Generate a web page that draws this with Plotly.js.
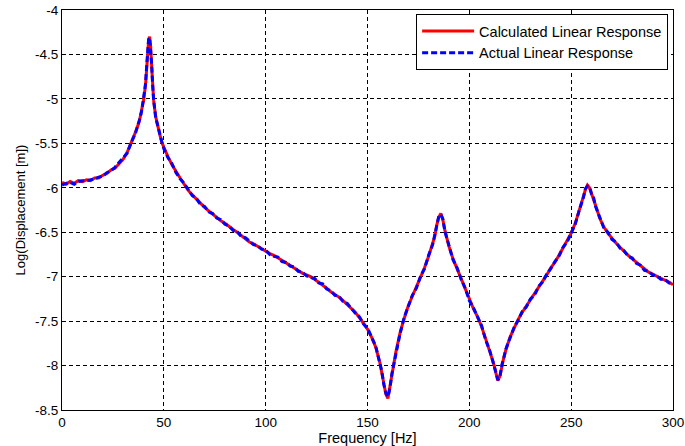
<!DOCTYPE html>
<html>
<head>
<meta charset="utf-8">
<script src="https://cdn.plot.ly/plotly-3.0.1.min.js"></script>
<style>html,body{margin:0;padding:0;background:#fff;}#chart{width:685px;height:446px;}</style>
</head>
<body>
<div id="chart"></div>
<script>
const freq = [
  0,2,4,6,8,10,12,14,16,18,20,22,24,26,28,30,32,34,36,38,
  39,40,41,41.5,42,42.5,43,43.5,44,44.5,45,46,47,48,49,
  50,52,54,56,58,60,62,64,66,68,70,72,74,76,78,80,82,84,86,88,90,92,94,96,98,
  100,102,104,106,108,110,112,114,116,118,120,122,124,126,128,130,132,134,136,138,
  140,142,144,146,148,150,152,154,156,
  157,158,159,160,161,162,163,
  164,166,168,170,172,174,176,178,180,182,
  183,184,185,186,187,188,
  190,192,194,196,198,200,202,204,206,208,210,212,
  213,214,215,216,217,218,
  220,222,224,226,228,230,232,234,236,238,240,242,244,246,248,250,252,254,256,
  257,258,259,260,261,262,
  264,266,268,270,272,274,276,278,280,282,284,286,288,290,292,294,296,298,300
];
const calculated = [
  -5.94,-5.96,-5.93,-5.95,-5.92,-5.93,-5.91,-5.92,-5.89,-5.89,-5.86,-5.84,-5.80,-5.78,-5.73,-5.68,-5.60,-5.50,-5.38,-5.25,
  -5.14,-5.02,-4.85,-4.65,-4.48,-4.35,-4.30,-4.40,-4.62,-4.85,-5.02,-5.20,-5.32,-5.40,-5.49,
  -5.55,-5.65,-5.74,-5.82,-5.89,-5.96,-6.03,-6.08,-6.13,-6.18,-6.22,-6.26,-6.30,-6.33,-6.37,-6.40,-6.44,-6.47,-6.50,-6.54,-6.57,-6.61,-6.63,-6.66,-6.68,
  -6.71,-6.74,-6.76,-6.79,-6.82,-6.85,-6.87,-6.90,-6.93,-6.96,-6.98,-7.00,-7.03,-7.06,-7.09,-7.13,-7.17,-7.20,-7.23,-7.27,
  -7.31,-7.35,-7.40,-7.46,-7.52,-7.59,-7.68,-7.79,-7.96,
  -8.07,-8.20,-8.32,-8.37,-8.25,-8.10,-7.97,
  -7.84,-7.63,-7.47,-7.33,-7.22,-7.12,-7.01,-6.90,-6.77,-6.63,
  -6.55,-6.42,-6.33,-6.29,-6.36,-6.48,
  -6.66,-6.80,-6.91,-7.02,-7.14,-7.26,-7.36,-7.45,-7.56,-7.70,-7.84,-7.98,
  -8.08,-8.17,-8.12,-8.00,-7.90,-7.82,
  -7.68,-7.58,-7.48,-7.40,-7.33,-7.26,-7.20,-7.12,-7.05,-6.98,-6.90,-6.84,-6.76,-6.68,-6.60,-6.51,-6.40,-6.26,-6.10,
  -6.02,-5.97,-6.00,-6.06,-6.12,-6.20,
  -6.34,-6.44,-6.51,-6.57,-6.62,-6.67,-6.72,-6.76,-6.80,-6.84,-6.88,-6.92,-6.95,-6.97,-7.00,-7.02,-7.04,-7.06,-7.09
];
const actual = [
  -5.97,-5.95,-5.94,-5.96,-5.93,-5.92,-5.92,-5.91,-5.90,-5.88,-5.87,-5.83,-5.81,-5.77,-5.72,-5.67,-5.61,-5.49,-5.39,-5.24,
  -5.15,-5.00,-4.83,-4.66,-4.47,-4.33,-4.31,-4.42,-4.60,-4.84,-5.01,-5.21,-5.31,-5.41,-5.48,
  -5.56,-5.66,-5.73,-5.83,-5.90,-5.95,-6.02,-6.09,-6.12,-6.19,-6.21,-6.27,-6.29,-6.34,-6.36,-6.41,-6.43,-6.48,-6.49,-6.55,-6.56,-6.60,-6.64,-6.65,-6.69,
  -6.70,-6.75,-6.77,-6.78,-6.83,-6.84,-6.88,-6.89,-6.94,-6.95,-6.99,-7.01,-7.02,-7.07,-7.08,-7.14,-7.16,-7.21,-7.22,-7.28,
  -7.30,-7.36,-7.41,-7.45,-7.53,-7.58,-7.69,-7.78,-7.97,
  -8.06,-8.21,-8.31,-8.35,-8.26,-8.09,-7.98,
  -7.83,-7.64,-7.46,-7.34,-7.21,-7.13,-7.00,-6.91,-6.76,-6.64,
  -6.54,-6.43,-6.32,-6.30,-6.35,-6.49,
  -6.65,-6.81,-6.90,-7.03,-7.13,-7.27,-7.35,-7.46,-7.55,-7.71,-7.83,-7.99,
  -8.07,-8.16,-8.13,-7.99,-7.91,-7.81,
  -7.69,-7.57,-7.49,-7.39,-7.34,-7.25,-7.21,-7.11,-7.06,-6.97,-6.91,-6.83,-6.77,-6.67,-6.61,-6.50,-6.41,-6.25,-6.11,
  -6.01,-5.98,-5.99,-6.07,-6.11,-6.21,
  -6.33,-6.45,-6.50,-6.58,-6.61,-6.68,-6.71,-6.77,-6.79,-6.85,-6.87,-6.93,-6.94,-6.98,-6.99,-7.03,-7.03,-7.07,-7.08
];
const xTickVals = [0,50,100,150,200,250,300];
const xTickText = ["0","50","100","150","200","250","300"];
const yTickVals = [-8.5,-8,-7.5,-7,-6.5,-6,-5.5,-5,-4.5,-4];
const yTickText = ["-8.5","-8","-7.5","-7","-6.5","-6","-5.5","-5","-4.5","-4"];
const seriesNames = ["Calculated Linear Response","Actual Linear Response"];

const fam = "Liberation Sans, Arial, sans-serif";
const tickFont = {family: fam, size: 13.5, color: "#000"};
const xTitleFont = {family: fam, size: 14.5, color: "#000"};
const yTitleFont = {family: fam, size: 13, color: "#000"};
const legendFont = {family: fam, size: 14.5, color: "#000"};
const traces = [
  {x: freq, y: calculated, name: seriesNames[0], type: "scatter", mode: "lines",
   line: {color: "#ff0000", width: 3}},
  {x: freq, y: actual, name: seriesNames[1], type: "scatter", mode: "lines",
   line: {color: "#0000ff", width: 3, dash: "6px,3px"}}
];
const axisCommon = {
  showline: true, mirror: true, linecolor: "#000", linewidth: 1,
  showgrid: true, gridcolor: "#000", gridwidth: 1, griddash: "4px,3px",
  zeroline: false, ticks: "", tickfont: tickFont, tickmode: "array"
};
const layout = {
  width: 685, height: 446,
  margin: {l: 62, r: 12, t: 10, b: 36},
  paper_bgcolor: "#fff", plot_bgcolor: "#fff",
  font: tickFont,
  showlegend: true,
  legend: {x: 0.992, y: 0.99, xanchor: "right", yanchor: "top",
    bgcolor: "#fff", bordercolor: "#000", borderwidth: 1,
    font: legendFont, itemwidth: 52, tracegroupgap: 0},
  xaxis: Object.assign({}, axisCommon, {range: [0, 300], tickvals: xTickVals, ticktext: xTickText,
    title: {text: "Frequency [Hz]", font: xTitleFont, standoff: 2}}),
  yaxis: Object.assign({}, axisCommon, {range: [-8.5, -4], tickvals: yTickVals, ticktext: yTickText,
    title: {text: "Log(Displacement [m])", font: yTitleFont, standoff: 6}})
};
Plotly.newPlot("chart", traces, layout, {displayModeBar: false, staticPlot: true});
</script>
</body>
</html>
